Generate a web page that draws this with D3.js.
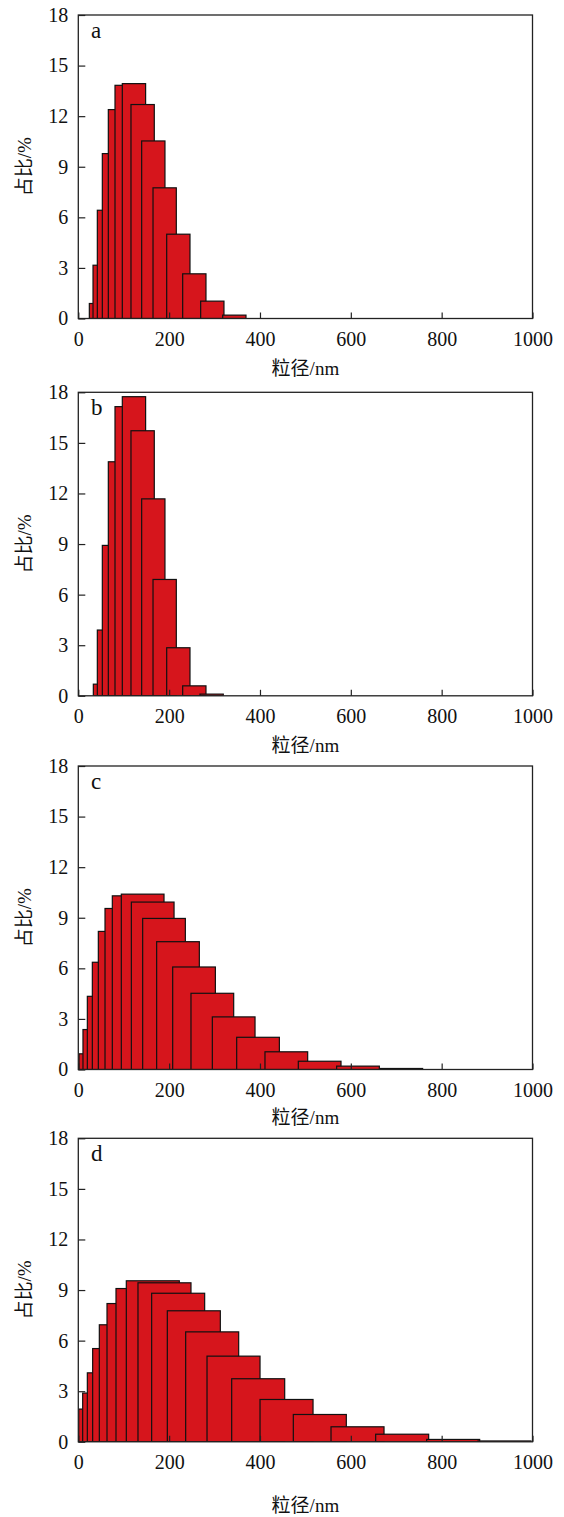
<!DOCTYPE html>
<html>
<head>
<meta charset="utf-8">
<script src="https://cdn.jsdelivr.net/npm/d3@7"></script>
<style>
body { margin: 0; background: #fff; }
text { font-family: "Liberation Serif", "Noto Sans CJK SC", serif; }
</style>
</head>
<body>
<script>
var width = 564;
var height = 1517;

// bin start (nm) and share (%)
var startA = [24.3, 32.4, 41.9, 52.9, 66.1, 80.8, 96.9, 116, 139.5, 164.5, 194.6, 229.8, 269.4, 317.9];
var valueA = [0.89, 3.16, 6.42, 9.78, 12.39, 13.83, 13.93, 12.69, 10.53, 7.75, 5.0, 2.65, 1.03, 0.2];

var startB = [33.1, 41.9, 52.9, 66.1, 80.8, 96.9, 116, 139.5, 164.5, 194.6, 229.8, 267.9];
var valueB = [0.69, 3.9, 8.92, 13.88, 17.15, 17.74, 15.72, 11.68, 6.9, 2.85, 0.59, 0.1];

var startC = [1.5, 10.3, 19.9, 30.9, 44.1, 58.8, 74.9, 94.7, 116.8, 141.7, 172.5, 207.8, 248.1, 295.1, 348.7, 411, 484.4, 568.8, 664.1];
var valueC = [0.93, 2.37, 4.34, 6.36, 8.19, 9.55, 10.3, 10.4, 9.93, 8.96, 7.58, 6.08, 4.52, 3.12, 1.91, 1.05, 0.49, 0.2, 0.06];

var startD = [0.8, 9.6, 19.9, 31.6, 46.3, 63.2, 83, 105.7, 131.4, 161.5, 196, 236.4, 283.4, 337.7, 400.1, 473.4, 556.4, 654.7, 767, 880];
var valueD = [1.94, 2.89, 4.09, 5.53, 6.94, 8.2, 9.09, 9.55, 9.43, 8.81, 7.77, 6.52, 5.08, 3.74, 2.51, 1.62, 0.89, 0.45, 0.14, 0.05];

// drawn bar width in nm for each panel
var binWidth = [51.3, 51.3, 94, 116.7];

var panelLetters = ["a", "b", "c", "d"];
var xTicks = [0, 200, 400, 600, 800, 1000];
var yTicks = [0, 3, 6, 9, 12, 15, 18];
var xTitle = "粒径/nm";
var yTitle = "占比/%";

var panels = [
	{letter: panelLetters[0], start: startA, value: valueA, bw: binWidth[0], top: 15, titleGap: 56},
	{letter: panelLetters[1], start: startB, value: valueB, bw: binWidth[1], top: 392.3, titleGap: 56},
	{letter: panelLetters[2], start: startC, value: valueC, bw: binWidth[2], top: 766, titleGap: 54},
	{letter: panelLetters[3], start: startD, value: valueD, bw: binWidth[3], top: 1138.3, titleGap: 70}
];

var left = 78.3, right = 532.5, plotH = 303.5;

var svg = d3.select("body")
	.append("svg")
	.attr("width", width)
	.attr("height", height);

var x = d3.scaleLinear().domain([0, 1000]).range([left, right]);

function drawPanel(p, i) {
	var y = d3.scaleLinear().domain([0, 18]).range([p.top + plotH, p.top]);
	var g = svg.append("g");

	g.append("clipPath")
		.attr("id", "clip" + i)
		.append("rect")
		.attr("x", left)
		.attr("y", p.top)
		.attr("width", right - left)
		.attr("height", plotH);

	var bars = p.start.map(function(s, k) {
		return {x0: s, x1: s + p.bw, v: p.value[k]};
	});

	g.append("g")
		.attr("clip-path", "url(#clip" + i + ")")
		.selectAll("rect")
		.data(bars)
		.enter()
		.append("rect")
		.attr("x", function(d) { return x(d.x0); })
		.attr("y", function(d) { return y(d.v); })
		.attr("width", function(d) { return x(d.x1) - x(d.x0); })
		.attr("height", function(d) { return y(0) - y(d.v); })
		.style("fill", "#d6151c")
		.style("stroke", "#111")
		.style("stroke-width", 1.2);

	// frame
	g.append("rect")
		.attr("x", left)
		.attr("y", p.top)
		.attr("width", right - left)
		.attr("height", plotH)
		.style("fill", "none")
		.style("stroke", "#222")
		.style("stroke-width", 1.3);

	var xAxis = g.append("g")
		.attr("transform", "translate(0," + y(0) + ")")
		.call(d3.axisBottom(x).tickValues(xTicks).tickFormat(d3.format("d"))
			.tickSizeInner(-6).tickSizeOuter(0).tickPadding(13));
	var yAxis = g.append("g")
		.attr("transform", "translate(" + left + ",0)")
		.call(d3.axisLeft(y).tickValues(yTicks).tickFormat(d3.format("d"))
			.tickSizeInner(-7).tickSizeOuter(0).tickPadding(10));

	[xAxis, yAxis].forEach(function(a) {
		a.select(".domain").remove();
		a.selectAll("line").style("stroke", "#222").style("stroke-width", 1.2);
		a.selectAll("text")
			.style("font-size", "20px")
			.style("fill", "#111")
			.style("font-family", "'Liberation Serif', serif");
	});

	g.append("text")
		.attr("x", 91)
		.attr("y", p.top + 22.5)
		.style("font-size", "23px")
		.style("fill", "#111")
		.text(p.letter);

	g.append("text")
		.attr("x", (left + right) / 2)
		.attr("y", y(0) + p.titleGap)
		.attr("text-anchor", "middle")
		.style("font-size", "19px")
		.style("fill", "#111")
		.text(xTitle);

	g.append("text")
		.attr("transform", "translate(31," + (p.top + plotH / 2) + ") rotate(-90)")
		.attr("text-anchor", "middle")
		.style("font-size", "19px")
		.style("fill", "#111")
		.text(yTitle);
}

panels.forEach(drawPanel);
</script>
</body>
</html>
